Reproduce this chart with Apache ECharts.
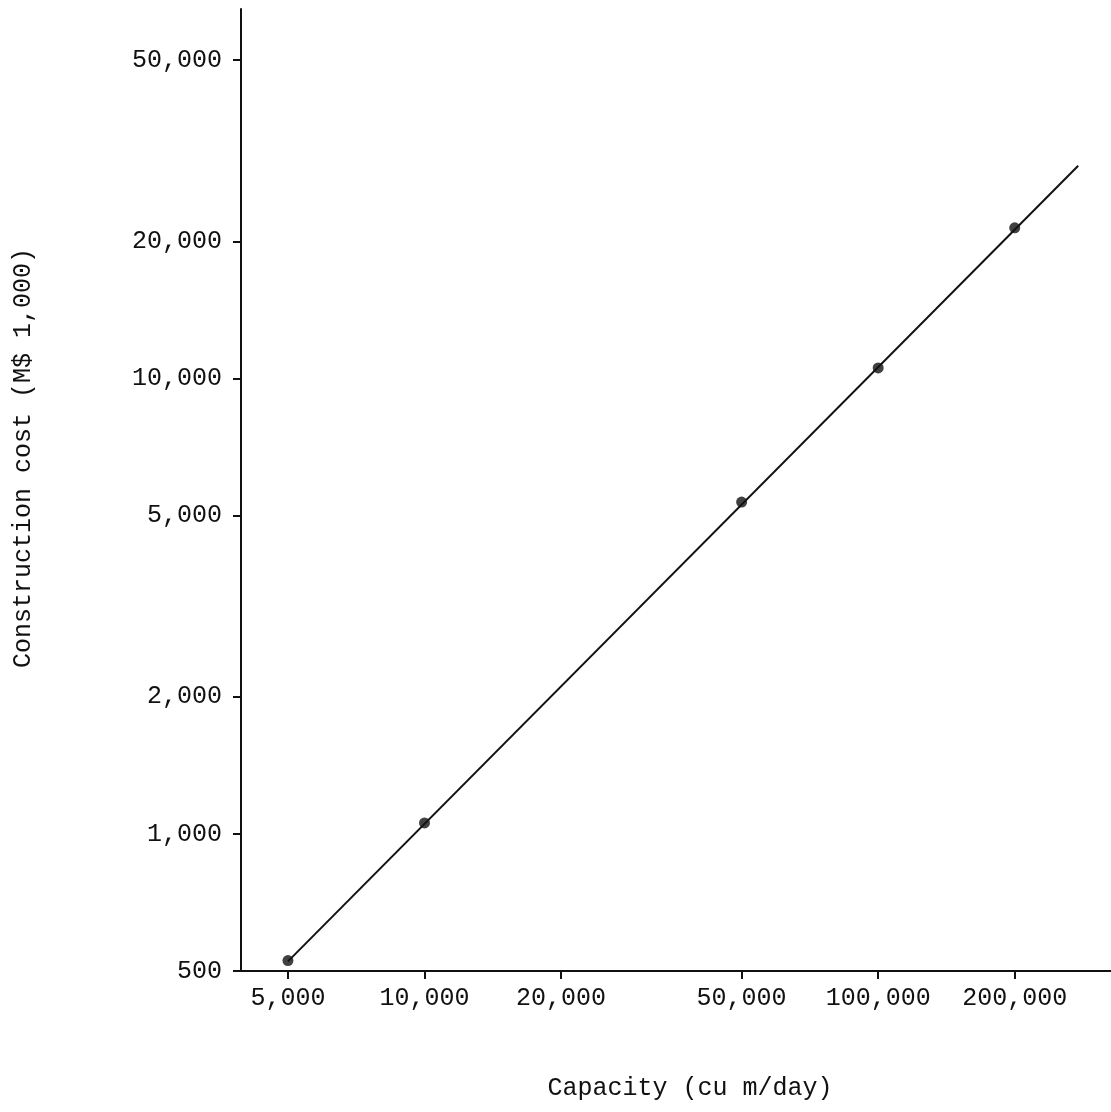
<!DOCTYPE html>
<html>
<head>
<meta charset="utf-8">
<script src="https://cdn.jsdelivr.net/npm/echarts@6/dist/echarts.min.js"></script>
<style>
html, body { margin: 0; padding: 0; background: #fff; }
#echarts { width: 1111px; height: 1112px; }
</style>
</head>
<body>
<div id="echarts"></div>
<script>
var capacity = [5000, 10000, 50000, 100000, 200000];
var cost = [527, 1057, 5350, 10540, 21400];
var fitLine = [[5000, 525], [276000, 29300]];
var xTicks = [5000, 10000, 20000, 50000, 100000, 200000];
var yTicks = [500, 1000, 2000, 5000, 10000, 20000, 50000];

var fontFam = '"Liberation Mono", "DejaVu Sans Mono", monospace';
function fmt(v) { return Math.round(v).toLocaleString('en-US'); }

var myChart = echarts.init(document.getElementById('echarts'));
var option = {
    animation: false,
    backgroundColor: '#fff',
    grid: { left: 241, right: 0, top: 9, bottom: 141, outerBoundsMode: 'none' },
    xAxis: {
        type: 'log',
        min: 3940,
        max: 326000,
        name: 'Capacity (cu m/day)',
        nameLocation: 'middle',
        nameGap: 105,
        nameTextStyle: { fontFamily: fontFam, fontSize: 25, color: '#111', padding: [0, 0, 0, 28] },
        axisLine: { lineStyle: { color: '#111', width: 2 } },
        axisTick: { customValues: xTicks, length: 8, lineStyle: { color: '#111', width: 2 } },
        axisLabel: { customValues: xTicks, formatter: fmt, margin: 15, fontFamily: fontFam, fontSize: 25, color: '#111' },
        splitLine: { show: false },
        minorTick: { show: false }
    },
    yAxis: {
        type: 'log',
        min: 500,
        max: 64700,
        name: 'Construction cost (M$ 1,000)',
        nameLocation: 'middle',
        nameRotate: 90,
        nameGap: 205,
        nameTextStyle: { fontFamily: fontFam, fontSize: 25, color: '#111', padding: [0, 0, 0, 64] },
        axisLine: { lineStyle: { color: '#111', width: 2 } },
        axisTick: { customValues: yTicks, length: 8, lineStyle: { color: '#111', width: 2 } },
        axisLabel: { customValues: yTicks, formatter: fmt, margin: 19, fontFamily: fontFam, fontSize: 25, color: '#111' },
        splitLine: { show: false },
        minorTick: { show: false }
    },
    series: [
        {
            name: 'fit',
            type: 'line',
            data: fitLine,
            symbol: 'none',
            lineStyle: { color: '#111', width: 2 },
            z: 2
        },
        {
            name: 'data',
            type: 'scatter',
            data: capacity.map(function (c, i) { return [c, cost[i]]; }),
            symbol: 'circle',
            symbolSize: 11,
            itemStyle: { color: '#111' },
            z: 3
        }
    ]
};
myChart.setOption(option);
</script>
</body>
</html>
